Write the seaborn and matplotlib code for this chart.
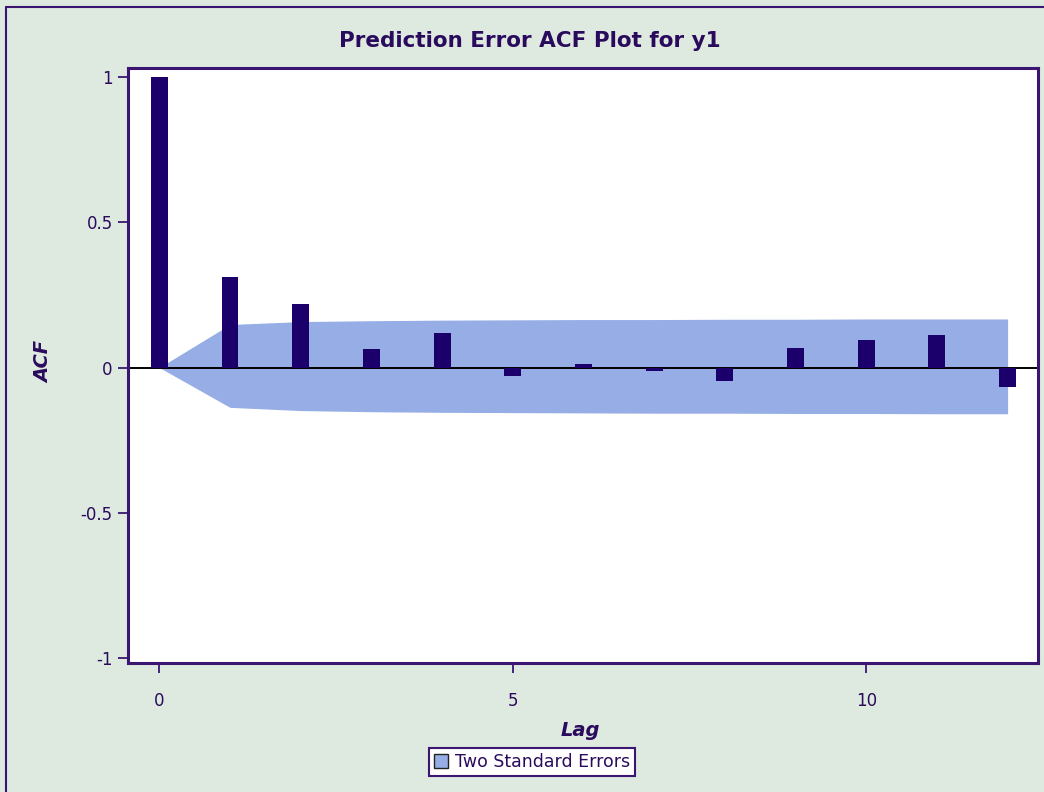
import numpy as np
import pandas as pd
import matplotlib
matplotlib.use('Agg')
import matplotlib.pyplot as plt
import seaborn as sns
from matplotlib.patches import Patch
from matplotlib.lines import Line2D

# Values
lags = [0, 1, 2, 3, 4, 5, 6, 7, 8, 9, 10, 11, 12]
acf = [1.0, 0.31, 0.219, 0.063, 0.119, -0.029, 0.012, -0.011, -0.046, 0.066, 0.096, 0.113, -0.067]
band_upper = [0, 0.148, 0.158, 0.161, 0.163, 0.164, 0.165, 0.165, 0.166, 0.166, 0.167, 0.167, 0.167]
band_lower = [0, -0.137, -0.148, -0.152, -0.154, -0.155, -0.156, -0.157, -0.157, -0.158, -0.158, -0.159, -0.159]
y_ticks = [-1, -0.5, 0, 0.5, 1]
y_tick_labels = ['-1', '-0.5', '0', '0.5', '1']
x_ticks = [0, 5, 10]

df = pd.DataFrame({'Lag': lags, 'ACF': acf})

bg = '#dee9df'
frame = '#3b1670'
text_col = '#2a0a5c'
bar_col = '#1b006c'
band_col = '#96aee5'

sns.set_style('white')
plt.rcParams['font.family'] = ['DejaVu Sans']

fig = plt.figure(figsize=(10.44, 7.92), dpi=100, facecolor=bg)
ax = fig.add_axes([128 / 1044, 1 - 663 / 792, 910 / 1044, 595 / 792])
ax.set_facecolor('white')

# two standard error band
ax.fill_between(lags, band_lower, band_upper, color=band_col, linewidth=0, zorder=1)

# ACF bars
sns.barplot(data=df, x='Lag', y='ACF', native_scale=True, width=0.24,
            color=bar_col, saturation=1, edgecolor='none', ax=ax, zorder=3)

ax.axhline(0, color='black', linewidth=1.4, zorder=2)

ax.set_xlim(-0.443, 12.43)
ax.set_ylim(-1.016, 1.03)
ax.set_xticks(x_ticks)
ax.set_xticklabels([str(t) for t in x_ticks])
ax.set_yticks(y_ticks)
ax.set_yticklabels(y_tick_labels)

for s in ax.spines.values():
    s.set_color(frame)
    s.set_linewidth(2.2)

ax.tick_params(axis='both', direction='out', length=7, width=1.3, color=frame,
               labelcolor=text_col, labelsize=12, left=True, bottom=True)
ax.tick_params(axis='x', pad=14)
ax.tick_params(axis='y', pad=4)

ax.set_xlabel('Lag', fontsize=14, fontweight='bold', fontstyle='italic', color=text_col)
ax.set_ylabel('ACF', fontsize=14, fontweight='bold', fontstyle='italic', color=text_col)
ax.xaxis.set_label_coords(0.497, -0.113)
ax.xaxis.label.set_va('center')
ax.yaxis.set_label_coords(-0.093, 0.506)
ax.yaxis.label.set_va('center')

fig.text(530 / 1044, 1 - 41 / 792, 'Prediction Error ACF Plot for y1', ha='center', va='center',
         fontsize=15.5, fontweight='bold', color=text_col)

# outer figure border (top and left visible)
fig.add_artist(Line2D([6 / 1044, 6 / 1044], [0, 1 - 7 / 792], transform=fig.transFigure, color=frame, linewidth=1.5))
fig.add_artist(Line2D([6 / 1044, 1], [1 - 7 / 792, 1 - 7 / 792], transform=fig.transFigure, color=frame, linewidth=1.5))

handle = Patch(facecolor=band_col, edgecolor='#222222', linewidth=1.0)
leg = fig.legend([handle], ['Two Standard Errors'], loc='center', bbox_to_anchor=(532 / 1044, 1 - 762 / 792),
                 frameon=True, fancybox=False, fontsize=12.5, handlelength=0.8, handleheight=0.8,
                 handletextpad=0.4, borderpad=0.3, borderaxespad=0)
leg.get_frame().set_edgecolor(frame)
leg.get_frame().set_linewidth(1.5)
leg.get_frame().set_facecolor('white')
leg.get_frame().set_alpha(1)
for t in leg.get_texts():
    t.set_color(text_col)

plt.savefig('out.png', dpi=100, facecolor=bg)
